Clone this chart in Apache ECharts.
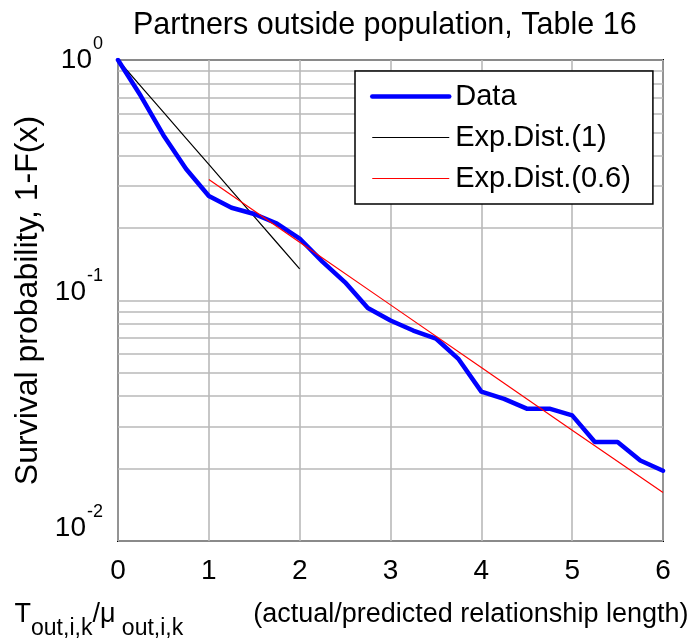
<!DOCTYPE html>
<html>
<head>
<meta charset="utf-8">
<style>
  html, body { margin: 0; padding: 0; background: #fff; }
  #chart { width: 694px; height: 639px; }
</style>
<script src="https://cdn.jsdelivr.net/npm/echarts@6/dist/echarts.min.js"></script>
</head>
<body>
<div id="chart"></div>
<script>
// Normalised relationship length (actual / predicted)
const lengthRatio = [0, 0.25, 0.5, 0.75, 1, 1.25, 1.5, 1.75, 2, 2.25, 2.5, 2.75, 3,
  3.25, 3.5, 3.75, 4, 4.25, 4.5, 4.75, 5, 5.25, 5.5, 5.75, 6];
// Empirical survival probability 1-F(x)
const survival = [1.0, 0.71, 0.487, 0.352, 0.272, 0.243, 0.229, 0.209, 0.181, 0.145,
  0.119, 0.093, 0.0826, 0.075, 0.0695, 0.057, 0.0418, 0.039, 0.0355, 0.0355,
  0.0333, 0.0258, 0.0258, 0.0216, 0.0196];

// Exponential distribution, rate 1
const exp1X = [0, 0.25, 0.5, 0.75, 1, 1.25, 1.5, 1.75, 2];
const exp1Y = [1.0, 0.7788, 0.6065, 0.4724, 0.3679, 0.2865, 0.2231, 0.1738, 0.1353];

// Exponential distribution, rate 0.6
const exp06X = [1, 2, 3, 4, 5, 6];
const exp06Y = [0.3183, 0.1747, 0.0959, 0.0526, 0.0289, 0.0159];

const seriesNames = ['Data', 'Exp.Dist.(1)', 'Exp.Dist.(0.6)'];
const titleText = 'Partners outside population, Table 16';
const yAxisTitle = 'Survival probability, 1-F(x)';

// Intermediate log-decade grid values (2..9 within each decade)
const minorGridValues = [0.02, 0.03, 0.04, 0.05, 0.06, 0.07, 0.08, 0.09,
  0.2, 0.3, 0.4, 0.5, 0.6, 0.7, 0.8, 0.9];

const FONT = '"Liberation Sans", Helvetica, Arial, sans-serif';
const GRID_COLOR = '#b9b9b9';

const pairs = (xs, ys) => xs.map((x, i) => [x, ys[i]]);

// rich styles for "10^k" tick labels: base digits and raised exponent
const base = (padBottom) => ({ fontFamily: FONT, fontSize: 28, lineHeight: 28, padding: [0, 0, padBottom, 0], color: '#000' });
const sup = (padBottom) => ({ fontFamily: FONT, fontSize: 18, lineHeight: 18, padding: [0, 0, padBottom, 1], color: '#000' });

const chart = echarts.init(document.getElementById('chart'), null, { renderer: 'canvas' });

chart.setOption({
  backgroundColor: '#fff',
  animation: false,
  textStyle: { fontFamily: FONT, color: '#000' },
  title: {
    text: titleText,
    left: 133,
    top: 10,
    padding: 0,
    textStyle: { fontFamily: FONT, fontSize: 30.5, fontWeight: 'normal', color: '#000' }
  },
  grid: {
    left: 118, right: 31, top: 60, bottom: 98,
    outerBoundsMode: 'none',
    containLabel: false,
    show: true,
    borderColor: '#000',
    borderWidth: 2,
    backgroundColor: '#fff'
  },
  legend: {
    data: seriesNames,
    orient: 'vertical',
    left: 355,
    top: 71,
    padding: [11, 22, 11, 15],
    itemWidth: 77,
    itemHeight: 14,
    itemGap: 12,
    backgroundColor: '#fff',
    borderColor: '#000',
    borderWidth: 1.5,
    borderRadius: 0,
    selectedMode: false,
    itemStyle: { opacity: 0 },
    lineStyle: { width: 'inherit' },
    textStyle: { fontFamily: FONT, fontSize: 29, color: '#000', padding: [0, 0, 0, 1] }
  },
  xAxis: {
    type: 'value',
    min: 0,
    max: 6,
    interval: 1,
    axisLine: { show: false },
    axisTick: { show: false },
    splitLine: { show: true, lineStyle: { color: GRID_COLOR, width: 1.6 } },
    axisLabel: { fontFamily: FONT, fontSize: 28, color: '#000', margin: 16 },
    name: '{m|T}{s|out,i,k}{m|/μ}{s| out,i,k}{g| }{m|(actual/predicted relationship length)}',
    nameLocation: 'middle',
    nameGap: 50,
    nameTextStyle: {
      fontFamily: FONT,
      color: '#000',
      padding: [0, 78, 0, 0],
      rich: {
        m: { fontFamily: FONT, fontSize: 27, lineHeight: 30, color: '#000' },
        s: { fontFamily: FONT, fontSize: 23, lineHeight: 21, padding: [27, 0, 0, 0], color: '#000' },
        g: { fontFamily: FONT, fontSize: 27, lineHeight: 30, width: 70 }
      }
    }
  },
  yAxis: {
    type: 'log',
    logBase: 10,
    min: 0.01,
    max: 1,
    axisLine: { show: false },
    axisTick: { show: false },
    splitLine: { show: true, lineStyle: { color: GRID_COLOR, width: 1.6 } },
    axisLabel: {
      margin: 15,
      showMinLabel: true,
      showMaxLabel: true,
      formatter: function (v) {
        const k = -Math.round(Math.log10(v));
        return '{b' + k + '|10}{s' + k + '|' + (-k) + '}';
      },
      rich: {
        b0: base(0), s0: sup(32),
        b1: base(16), s1: sup(48),
        b2: base(26), s2: sup(58)
      }
    },
    name: yAxisTitle,
    nameLocation: 'middle',
    nameGap: 74,
    nameTextStyle: { fontFamily: FONT, fontSize: 32, color: '#000' }
  },
  series: [
    {
      // carries the 2..9 decade grid lines underneath the curves
      type: 'line',
      data: [],
      silent: true,
      z: 1,
      markLine: {
        silent: true,
        z: 1,
        symbol: ['none', 'none'],
        label: { show: false },
        lineStyle: { color: GRID_COLOR, width: 1.6, type: 'solid' },
        emphasis: { disabled: true },
        data: minorGridValues.map(v => ({ yAxis: v }))
      }
    },
    {
      name: seriesNames[0],
      type: 'line',
      z: 4,
      data: pairs(lengthRatio, survival),
      symbol: 'none',
      lineStyle: { color: '#0000ff', width: 4.5, join: 'round', cap: 'round' },
      itemStyle: { color: '#0000ff' }
    },
    {
      name: seriesNames[1],
      type: 'line',
      z: 3,
      data: pairs(exp1X, exp1Y),
      symbol: 'none',
      lineStyle: { color: '#000', width: 1.2 },
      itemStyle: { color: '#000' }
    },
    {
      name: seriesNames[2],
      type: 'line',
      z: 5,
      data: pairs(exp06X, exp06Y),
      symbol: 'none',
      lineStyle: { color: '#ff0000', width: 1.2 },
      itemStyle: { color: '#ff0000' }
    }
  ]
});
</script>
</body>
</html>
